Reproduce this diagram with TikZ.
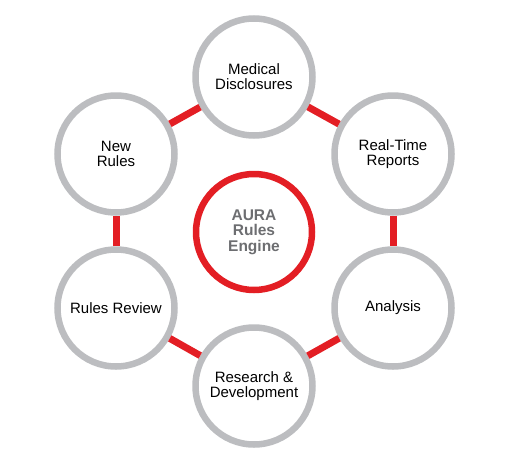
\documentclass[tikz,border=0pt]{standalone}
\usepackage{fontspec}
\setmainfont{Liberation Sans}
\usetikzlibrary{positioning}
\definecolor{ringgray}{RGB}{188,189,192}
\definecolor{aurared}{RGB}{227,30,36}
\definecolor{coregray}{RGB}{109,110,113}
\tikzset{
  stage/.style={circle, draw=ringgray, line width=6.5pt, fill=white,
    minimum size=117pt, inner sep=0pt, align=center,
    font=\fontsize{15}{15}\selectfont, text=black},
  core/.style={circle, draw=aurared, line width=6.5pt, fill=white,
    minimum size=116pt, inner sep=0pt, align=center,
    font=\fontsize{15.5}{15.5}\selectfont\bfseries, text=coregray},
  linkln/.style={aurared, line width=7pt},
}
\begin{document}
\begin{tikzpicture}[x=1pt,y=-1pt]
  \useasboundingbox (0,0) rectangle (519,463);
  \node[core] (engine) at (254,232) {AURA\\Rules\\Engine};
  \node[stage] (medical) at (254,77) {Medical\\Disclosures};
  \node[stage] (realtime) at (393,154) {Real-Time\\Reports};
  \node[stage] (analysis) at (393,308) {Analysis};
  \node[stage] (research) at (254,386) {Research \&\\Development};
  \node[stage] (review) at (116,308) {Rules Review};
  \node[stage] (newrules) at (116,154) {New\\Rules};
  % ring links between neighbours
  \draw[linkln] (medical) -- (realtime);
  \draw[linkln] (realtime) -- (analysis);
  \draw[linkln] (analysis) -- (research);
  \draw[linkln] (research) -- (review);
  \draw[linkln] (review) -- (newrules);
  \draw[linkln] (newrules) -- (medical);
\end{tikzpicture}
\end{document}
